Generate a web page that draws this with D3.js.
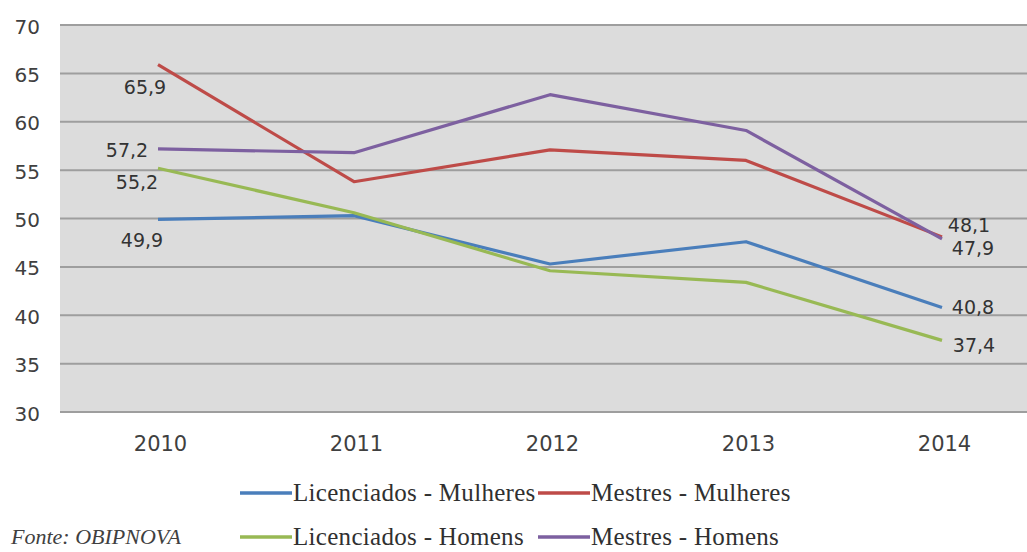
<!DOCTYPE html>
<html>
<head>
<meta charset="utf-8">
<script src="https://cdn.jsdelivr.net/npm/d3@7"></script>
<style>
  html, body { margin: 0; padding: 0; background: #ffffff; }
  svg { display: block; }
  .sans { font-family: "DejaVu Sans", "Liberation Sans", sans-serif; }
  .serif { font-family: "Liberation Serif", "DejaVu Serif", serif; }
</style>
</head>
<body>
<svg id="chart" width="1027" height="552"></svg>
<script>
// Anos e séries
const years = ["2010", "2011", "2012", "2013", "2014"];
const licMulheres = [49.9, 50.3, 45.3, 47.6, 40.8];
const mesMulheres = [65.9, 53.8, 57.1, 56.0, 48.1];
const licHomens   = [55.2, 50.6, 44.6, 43.4, 37.4];
const mesHomens   = [57.2, 56.8, 62.8, 59.1, 47.9];
const seriesNames = ["Licenciados - Mulheres", "Mestres - Mulheres", "Licenciados - Homens", "Mestres - Homens"];
const yTicks = [30, 35, 40, 45, 50, 55, 60, 65, 70];
const source = "Fonte: OBIPNOVA";

const seriesValues = [licMulheres, mesMulheres, licHomens, mesHomens];
const colors = ["#4a7ebb", "#be4b48", "#98b954", "#7d60a0"];

// Rótulos de valor: índice do ponto e deslocamento do texto
const labelSpec = [
  [{ i: 0, dx: -16, dy: 21 }, { i: 4, dx: 31, dy: 0 }],
  [{ i: 0, dx: -13, dy: 22 }, { i: 4, dx: 27, dy: -12 }],
  [{ i: 0, dx: -21, dy: 14 }, { i: 4, dx: 32, dy: 5 }],
  [{ i: 0, dx: -31, dy: 1 }, { i: 4, dx: 31, dy: 9 }]
];

const svg = d3.select("#chart");
const plot = { left: 60, right: 1040, top: 25, bottom: 412 };

const x = d3.scalePoint().domain(years).range([158, 942]);
const y = d3.scaleLinear().domain([30, 70]).range([plot.bottom, plot.top]);

// Fundo da área do gráfico
svg.append("rect")
  .attr("x", plot.left).attr("y", plot.top)
  .attr("width", plot.right - plot.left).attr("height", plot.bottom - plot.top)
  .attr("fill", "#dcdcdc");

// Linhas de grade
svg.append("g").selectAll("line").data(yTicks).join("line")
  .attr("x1", plot.left).attr("x2", plot.right)
  .attr("y1", d => y(d)).attr("y2", d => y(d))
  .attr("stroke", "#9e9e9e").attr("stroke-width", 2);

// Eixo Y
const yAxis = svg.append("g")
  .attr("transform", `translate(${plot.left},0)`)
  .call(d3.axisLeft(y).tickValues(yTicks).tickSize(0).tickPadding(20));
yAxis.select(".domain").remove();
yAxis.selectAll("text")
  .attr("class", "sans")
  .attr("dy", "0.4em")
  .style("font-size", "20px").attr("fill", "#404040");

// Eixo X
const xAxis = svg.append("g")
  .attr("transform", `translate(2,${plot.bottom})`)
  .call(d3.axisBottom(x).tickSize(0));
xAxis.select(".domain").remove();
xAxis.selectAll("text")
  .attr("class", "sans")
  .attr("y", 31).attr("dy", "0.36em")
  .style("font-size", "21px").attr("fill", "#404040");

// Linhas das séries
const line = d3.line().x((d, i) => x(years[i])).y(d => y(d));
svg.append("g").selectAll("path").data(seriesValues).join("path")
  .attr("d", d => line(d))
  .attr("fill", "none")
  .attr("stroke", (d, k) => colors[k])
  .attr("stroke-width", 3.2)
  .attr("stroke-linejoin", "round");

// Rótulos de valor
const fmt = v => d3.format(".1f")(v).replace(".", ",");
const labels = svg.append("g").attr("class", "sans")
  .style("font-size", "19px").attr("fill", "#333333");
labelSpec.forEach((specs, k) => {
  specs.forEach(s => {
    const v = seriesValues[k][s.i];
    labels.append("text")
      .attr("x", x(years[s.i]) + s.dx)
      .attr("y", y(v) + s.dy)
      .attr("text-anchor", "middle")
      .attr("dy", "0.36em")
      .text(fmt(v));
  });
});

// Legenda
const legendItems = [
  { k: 0, x: 240, y: 493 },
  { k: 1, x: 538, y: 493 },
  { k: 2, x: 240, y: 537 },
  { k: 3, x: 538, y: 537 }
];
const legend = svg.append("g");
legendItems.forEach(it => {
  legend.append("line")
    .attr("x1", it.x).attr("x2", it.x + 52)
    .attr("y1", it.y).attr("y2", it.y)
    .attr("stroke", colors[it.k]).attr("stroke-width", 3.5);
  legend.append("text")
    .attr("class", "serif")
    .attr("x", it.x + 53).attr("y", it.y)
    .attr("dy", "0.33em")
    .style("font-size", "25px").style("letter-spacing", "0.3px")
    .attr("fill", "#303030")
    .text(seriesNames[it.k]);
});

// Fonte
svg.append("text")
  .attr("class", "serif")
  .attr("x", 11).attr("y", 544)
  .style("font-style", "italic")
  .style("font-size", "22px").attr("fill", "#404040")
  .text(source);
</script>
</body>
</html>
